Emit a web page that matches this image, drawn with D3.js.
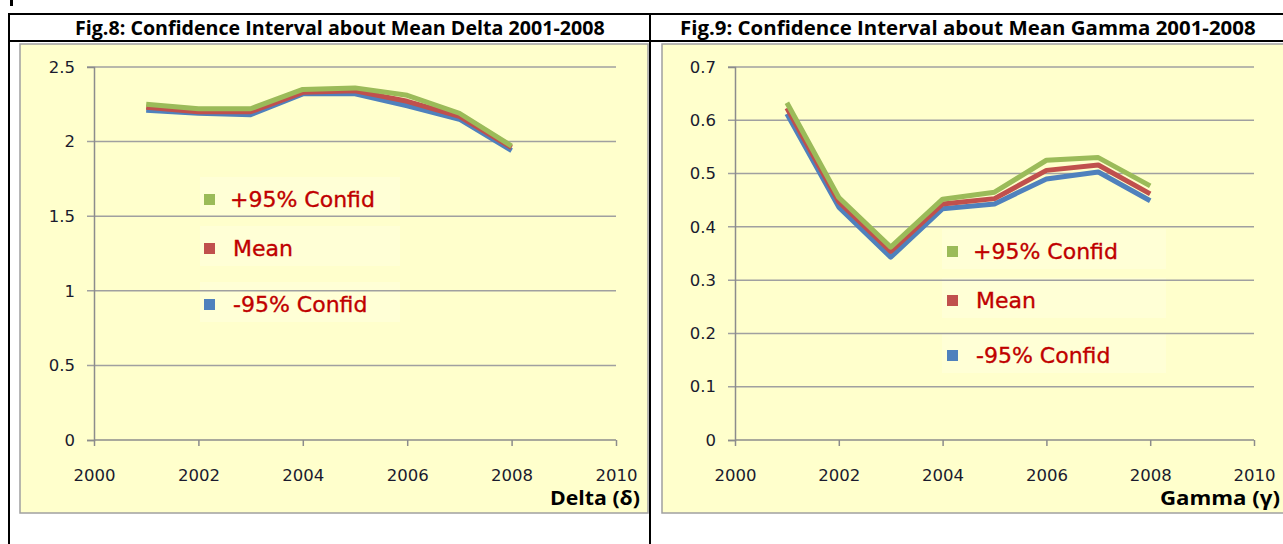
<!DOCTYPE html>
<html>
<head>
<meta charset="utf-8">
<script src="https://cdn.jsdelivr.net/npm/d3@7/dist/d3.min.js"></script>
<style>
  html, body { margin: 0; padding: 0; background: #fff; }
  svg { display: block; }
  .tick text { font-family: "DejaVu Sans", sans-serif; font-size: 16.5px; fill: #1a1a2e; }
</style>
</head>
<body>
<svg id="chart" width="1283" height="544"></svg>
<script>
// data
const years = [2001, 2002, 2003, 2004, 2005, 2006, 2007, 2008];
const deltaUpper = [2.25, 2.22, 2.22, 2.35, 2.36, 2.31, 2.19, 1.97];
const deltaMean = [2.23, 2.20, 2.20, 2.33, 2.34, 2.27, 2.17, 1.96];
const deltaLower = [2.21, 2.19, 2.18, 2.32, 2.32, 2.24, 2.15, 1.94];
const gammaUpper = [0.633, 0.455, 0.362, 0.452, 0.465, 0.525, 0.530, 0.477];
const gammaMean = [0.623, 0.447, 0.354, 0.443, 0.453, 0.506, 0.516, 0.462];
const gammaLower = [0.612, 0.437, 0.343, 0.434, 0.443, 0.490, 0.503, 0.449];
const xTicks = [2000, 2002, 2004, 2006, 2008, 2010];
const deltaTicks = [0, 0.5, 1, 1.5, 2, 2.5];
const gammaTicks = [0, 0.1, 0.2, 0.3, 0.4, 0.5, 0.6, 0.7];
const seriesNames = ["+95% Confid", "Mean", "-95% Confid"];
const seriesColors = ["#9bbb59", "#c0504d", "#4f81bd"];

const svg = d3.select("#chart");

// outer table
const table = { left: 9, top: 14, right: 1292, titleBottom: 41, divider: 650 };
svg.append("rect").attr("x", table.left).attr("y", table.top)
  .attr("width", table.right - table.left).attr("height", 600)
  .attr("fill", "#fff").attr("stroke", "#000").attr("stroke-width", 2);
svg.append("path").attr("d", `M${table.left},${table.titleBottom}H${table.right}`)
  .attr("stroke", "#000").attr("stroke-width", 2);
svg.append("path").attr("d", `M${table.divider},${table.top}V560`)
  .attr("stroke", "#000").attr("stroke-width", 2);
// bit of the line of text above the table
svg.append("rect").attr("x", 10).attr("y", 0).attr("width", 3).attr("height", 6).attr("fill", "#000");

// squeeze a text horizontally to a given width, keeping its height
const fitX = (sel, x, y, w, anchor) => {
  const len = sel.node().getComputedTextLength();
  const k = w / len;
  const x0 = anchor === "middle" ? x - w / 2 : anchor === "end" ? x - w : x;
  sel.attr("text-anchor", "start").attr("x", 0).attr("y", 0)
    .attr("transform", `translate(${x0},${y}) scale(${k},1)`);
};

const panels = [
  {
    title: "Fig.8: Confidence Interval about Mean Delta 2001-2008",
    titleX: 340, titleW: 530,
    box: [20, 44, 648, 513],
    xRange: [94, 616], yRange: [440, 67],
    yDomain: [0, 2.5], yTicks: deltaTicks,
    series: [deltaUpper, deltaMean, deltaLower],
    axisTitle: "Delta (δ)", axisTitleX: 640, axisTitleW: 90,
    legend: { x: 210, ys: [199, 248, 304], box: [200, 400] }
  },
  {
    title: "Fig.9: Confidence Interval about Mean Gamma 2001-2008",
    titleX: 968, titleW: 576,
    box: [662, 44, 1300, 513],
    xRange: [735, 1254], yRange: [440, 67],
    yDomain: [0, 0.7], yTicks: gammaTicks,
    series: [gammaUpper, gammaMean, gammaLower],
    axisTitle: "Gamma (γ)", axisTitleX: 1280, axisTitleW: 120,
    legend: { x: 953, ys: [251, 300, 355], box: [942, 1166] }
  }
];

panels.forEach(p => {
  const t = svg.append("text").attr("font-family", "Open Sans")
    .attr("font-weight", "bold").attr("font-size", 20).attr("fill", "#000")
    .text(p.title);
  fitX(t, p.titleX, 35, p.titleW, "middle");

  const [bx0, by0, bx1, by1] = p.box;
  svg.append("rect").attr("x", bx0).attr("y", by0)
    .attr("width", bx1 - bx0).attr("height", by1 - by0)
    .attr("fill", "#ffffcc").attr("stroke", "#a0a0a0").attr("stroke-width", 1.5);

  const x = d3.scaleLinear([2000, 2010], p.xRange);
  const y = d3.scaleLinear(p.yDomain, p.yRange);
  const g = svg.append("g");

  // legend boxes (faint)
  p.legend.ys.forEach(ly => {
    g.append("rect").attr("x", p.legend.box[0]).attr("y", ly - 22)
      .attr("width", p.legend.box[1] - p.legend.box[0]).attr("height", 40)
      .attr("fill", "#ffffd6");
  });

  // gridlines
  g.selectAll("path.grid").data(p.yTicks.filter(d => d > 0)).join("path")
    .attr("class", "grid")
    .attr("d", d => `M${p.xRange[0] - 7},${y(d)}H${p.xRange[1]}`)
    .attr("stroke", "#a0a0a0").attr("stroke-width", 1.5);

  // y axis
  const yAxis = g.append("g").attr("transform", `translate(${p.xRange[0]},0)`)
    .call(d3.axisLeft(y).tickValues(p.yTicks).tickFormat(d3.format("")).tickSize(7).tickPadding(12));
  // x axis
  const xAxis = g.append("g").attr("transform", `translate(0,${p.yRange[0]})`)
    .call(d3.axisBottom(x).tickValues(xTicks).tickFormat(d3.format("d")).tickSize(6).tickPadding(23));
  [yAxis, xAxis].forEach(a => {
    a.select(".domain").attr("stroke", "#8c8c8c").attr("stroke-width", 1.5);
    a.selectAll(".tick line").attr("stroke", "#8c8c8c").attr("stroke-width", 1.5);
  });
  yAxis.selectAll(".tick line").filter(d => d > 0).remove();
  xAxis.select(".domain").attr("d", `M${p.xRange[0]},0H${p.xRange[1]}`);

  // lines: drawn lower, mean, upper
  const line = d3.line().x((d, i) => x(years[i])).y(d => y(d));
  [2, 1, 0].forEach(k => {
    g.append("path").datum(p.series[k]).attr("d", line)
      .attr("fill", "none").attr("stroke", seriesColors[k])
      .attr("stroke-width", 5).attr("stroke-linejoin", "round");
  });

  // legend
  p.legend.ys.forEach((ly, k) => {
    g.append("rect").attr("x", p.legend.x - 6).attr("y", ly - 5)
      .attr("width", 11).attr("height", 11).attr("fill", seriesColors[k]);
    g.append("text").attr("x", p.legend.x + 20 + (k === 0 ? 0 : 3)).attr("y", ly + 8)
      .attr("font-family", "DejaVu Sans").attr("font-size", 22).attr("fill", "#c00000")
      .attr("stroke", "#c00000").attr("stroke-width", 0.35)
      .text(seriesNames[k]);
  });

  // axis title
  const at = svg.append("text").attr("font-family", "Open Sans")
    .attr("font-weight", "bold").attr("font-size", 19).attr("fill", "#000")
    .text(p.axisTitle);
  fitX(at, p.axisTitleX, 505, p.axisTitleW, "end");
});
</script>
</body>
</html>
